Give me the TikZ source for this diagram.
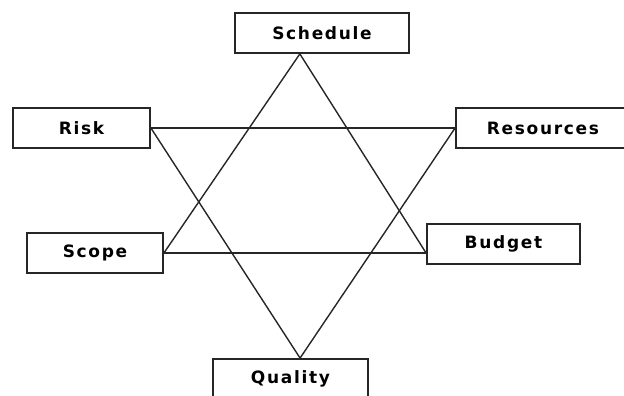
\documentclass[tikz,border=0pt]{standalone}
\usepackage{fontspec}
\newfontfamily\boxfont{DejaVu Sans}[LetterSpace=10]
\usepackage{tikz}
\usetikzlibrary{positioning, calc}

\begin{document}
\begin{tikzpicture}[x=1pt, y=1pt,
  factor/.style={rectangle, draw=black!85, line width=1.8pt, fill=white,
    inner sep=0pt, minimum height=40pt, align=center,
    font=\boxfont\bfseries\fontsize{17}{19}\selectfont},
  link/.style={draw=black!85, line width=1.4pt}
]
  \useasboundingbox (0,0) rectangle (624,396);
  \clip (0,0) rectangle (624,396);

  \node[factor, minimum width=174pt] (schedule) at (322,363) {Schedule};
  \node[factor, minimum width=137pt] (risk) at (81.5,268) {Risk};
  \node[factor, minimum width=174pt] (resources) at (543,268) {Resources};
  \node[factor, minimum width=136pt] (scope) at (95,143) {Scope};
  \node[factor, minimum width=153pt] (budget) at (503.5,152) {Budget};
  \node[factor, minimum width=155pt] (quality) at (290.5,17) {Quality};

  % triangle points of the star
  \coordinate (top) at ($(schedule.south west)!0.374!(schedule.south east)$);
  \coordinate (bottom) at ($(quality.north west)!0.561!(quality.north east)$);

  \draw[link] (top) -- (scope.east);
  \draw[link] (top) -- (budget.west |- scope.east);
  \draw[link] (scope.east) -- (budget.west |- scope.east);

  \draw[link] (risk.east) -- (resources.west);
  \draw[link] (risk.east) -- (bottom);
  \draw[link] (resources.west) -- (bottom);
\end{tikzpicture}
\end{document}
